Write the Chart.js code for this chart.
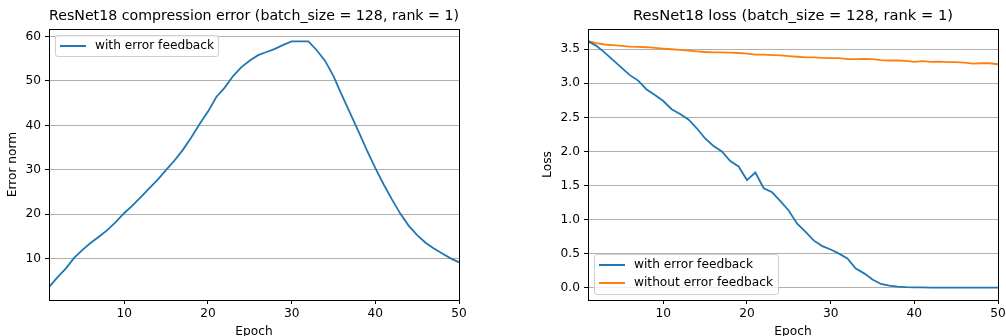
<!DOCTYPE html>
<html>
<head>
<meta charset="utf-8">
<script src="https://cdn.jsdelivr.net/npm/chart.js@4/dist/chart.umd.min.js"></script>
<style>
  html, body { margin:0; padding:0; background:#fff; }
  body { width:1006px; height:336px; overflow:hidden; position:relative; font-family:"DejaVu Sans", sans-serif; }
  .wrap { position:absolute; top:0; }
  .legend { position:absolute; background:rgba(255,255,255,0.8); border:1px solid #d0d0d0; border-radius:3px; box-sizing:border-box; font-size:12.2px; color:#000; }
  .item { position:absolute; white-space:nowrap; }
  .item .swatch { position:absolute; left:0; top:50%; width:26px; height:2px; margin-top:-1px; }
  .item .lbl { position:absolute; left:35px; top:50%; transform:translateY(-55%); }
</style>
</head>
<body>
<div class="wrap" style="left:0;width:500px;height:346px;"><canvas id="c1" width="500" height="346"></canvas></div>
<div class="wrap" style="left:530px;width:476px;height:346px;"><canvas id="c2" width="476" height="346"></canvas></div>

<div class="legend" style="left:55px;top:35px;width:164px;height:22px;">
  <div class="item" style="left:4px;top:0;height:20px;width:150px;"><div class="swatch" style="background:#1f77b4"></div><div class="lbl">with error feedback</div></div>
</div>
<div class="legend" style="left:594px;top:254px;width:185px;height:41px;">
  <div class="item" style="left:4px;top:1px;height:18px;width:170px;"><div class="swatch" style="background:#1f77b4"></div><div class="lbl">with error feedback</div></div>
  <div class="item" style="left:4px;top:19px;height:18px;width:170px;"><div class="swatch" style="background:#ff7f0e"></div><div class="lbl">without error feedback</div></div>
</div>

<script>
// ---- data ----
const epochs = Array.from({length:50}, (_, i) => i + 1);
const errorNorm = [3.6, 5.8, 7.8, 10.2, 12.0, 13.6, 15.0, 16.5, 18.3, 20.3,
  22.0, 23.9, 25.9, 27.8, 30.0, 32.1, 34.5, 37.3, 40.3, 43.1,
  46.4, 48.5, 51.1, 53.1, 54.6, 55.8, 56.5, 57.2, 58.1, 58.9,
  58.9, 58.9, 56.9, 54.5, 51.1, 46.8, 42.7, 38.6, 34.4, 30.4,
  26.7, 23.3, 20.1, 17.4, 15.3, 13.6, 12.3, 11.2, 10.1, 9.2];
const lossWithEF = [3.62, 3.55, 3.45, 3.34, 3.23, 3.12, 3.04, 2.91, 2.83, 2.74,
  2.62, 2.55, 2.47, 2.34, 2.19, 2.08, 2.00, 1.86, 1.78, 1.58,
  1.69, 1.46, 1.40, 1.27, 1.13, 0.94, 0.82, 0.69, 0.61, 0.56,
  0.50, 0.43, 0.28, 0.21, 0.12, 0.055, 0.03, 0.015, 0.008, 0.004,
  0.003, 0.002, 0.002, 0.002, 0.001, 0.001, 0.001, 0.001, 0.001, 0.001];
const lossWithoutEF = [3.62, 3.59, 3.57, 3.56, 3.55, 3.54, 3.535, 3.53, 3.52, 3.51,
  3.50, 3.49, 3.48, 3.47, 3.46, 3.455, 3.455, 3.45, 3.445, 3.435,
  3.42, 3.42, 3.415, 3.41, 3.40, 3.39, 3.38, 3.38, 3.375, 3.37,
  3.37, 3.355, 3.355, 3.36, 3.355, 3.34, 3.335, 3.335, 3.33, 3.315,
  3.325, 3.315, 3.32, 3.31, 3.31, 3.305, 3.29, 3.295, 3.295, 3.28];
const xTicks = [10, 20, 30, 40, 50];
const yTicksErr = [10, 20, 30, 40, 50, 60];
const yTicksLoss = [0.0, 0.5, 1.0, 1.5, 2.0, 2.5, 3.0, 3.5];

const BLUE = '#1f77b4', ORANGE = '#ff7f0e';
const FONT = "'DejaVu Sans', sans-serif";
const TICK = 12.2, TITLE = 14.7;
Chart.defaults.font.family = FONT;
Chart.defaults.color = '#000';

const frame = {
  id: 'frame',
  afterDatasetsDraw(chart) {
    const a = chart.chartArea, ctx = chart.ctx;
    ctx.save();
    ctx.strokeStyle = '#000';
    ctx.lineWidth = 1;
    ctx.strokeRect(Math.round(a.left) + 0.5, Math.round(a.top) + 0.5, Math.round(a.right - a.left), Math.round(a.bottom - a.top));
    ctx.restore();
  }
};

function makeChart(id, datasets, opts) {
  return new Chart(document.getElementById(id), {
    type: 'line',
    data: { datasets },
    plugins: [frame],
    options: {
      responsive: false,
      animation: false,
      events: [],
      layout: { padding: { left: 0, right: opts.padRight, top: 0, bottom: 0 } },
      plugins: {
        legend: { display: false },
        tooltip: { enabled: false },
        title: {
          display: true, text: opts.title, fullSize: false,
          font: { size: TITLE, weight: 'normal', family: FONT }, color: '#000',
          padding: { top: 7.6, bottom: 3.8 }
        }
      },
      elements: { point: { radius: 0 }, line: { borderWidth: 1.8, tension: 0 } },
      scales: {
        x: {
          type: 'linear', min: 1, max: 50,
          afterBuildTicks: s => { s.ticks = xTicks.map(v => ({ value: v })); },
          afterFit: s => { s.height = 46; s.paddingLeft = 0; s.paddingRight = 0; },
          ticks: { font: { size: TICK }, color: '#000', padding: 3, maxRotation: 0, callback: v => String(v) },
          grid: { drawOnChartArea: false, drawTicks: true, tickLength: 4, tickColor: '#000', tickWidth: 1 },
          border: { display: true, color: '#000', width: 1 },
          title: { display: true, text: 'Epoch', font: { size: TICK }, color: '#000', padding: { top: 0, bottom: 6.5 } }
        },
        y: {
          type: 'linear', min: opts.ymin, max: opts.ymax,
          afterBuildTicks: s => { s.ticks = opts.yTicks.map(v => ({ value: v })); },
          afterFit: s => { s.width = opts.yWidth; },
          ticks: { font: { size: TICK }, color: '#000', padding: 4, callback: opts.fmt },
          grid: { drawOnChartArea: true, color: '#b0b0b0', lineWidth: 1, drawTicks: true, tickLength: 4, tickColor: '#000', tickWidth: 1 },
          border: { display: true, color: '#000', width: 1 },
          title: { display: true, text: opts.ytitle, font: { size: TICK }, color: '#000', padding: { top: opts.ytitlePad, bottom: 0 } }
        }
      }
    }
  });
}

makeChart('c1', [
  { label: 'with error feedback', data: epochs.map((e, i) => ({ x: e, y: errorNorm[i] })), borderColor: BLUE, backgroundColor: BLUE }
], {
  title: 'ResNet18 compression error (batch_size = 128, rank = 1)',
  padRight: 41, ymin: 0.73, ymax: 61.67, yTicks: yTicksErr, yWidth: 49,
  ytitle: 'Error norm', ytitlePad: 6, fmt: v => String(v)
});

makeChart('c2', [
  { label: 'with error feedback', data: epochs.map((e, i) => ({ x: e, y: lossWithEF[i] })), borderColor: BLUE, backgroundColor: BLUE },
  { label: 'without error feedback', data: epochs.map((e, i) => ({ x: e, y: lossWithoutEF[i] })), borderColor: ORANGE, backgroundColor: ORANGE }
], {
  title: 'ResNet18 loss (batch_size = 128, rank = 1)',
  padRight: 8, ymin: -0.181, ymax: 3.797, yTicks: yTicksLoss, yWidth: 58,
  ytitle: 'Loss', ytitlePad: 11, fmt: v => Number(v).toFixed(1)
});
</script>
</body>
</html>
